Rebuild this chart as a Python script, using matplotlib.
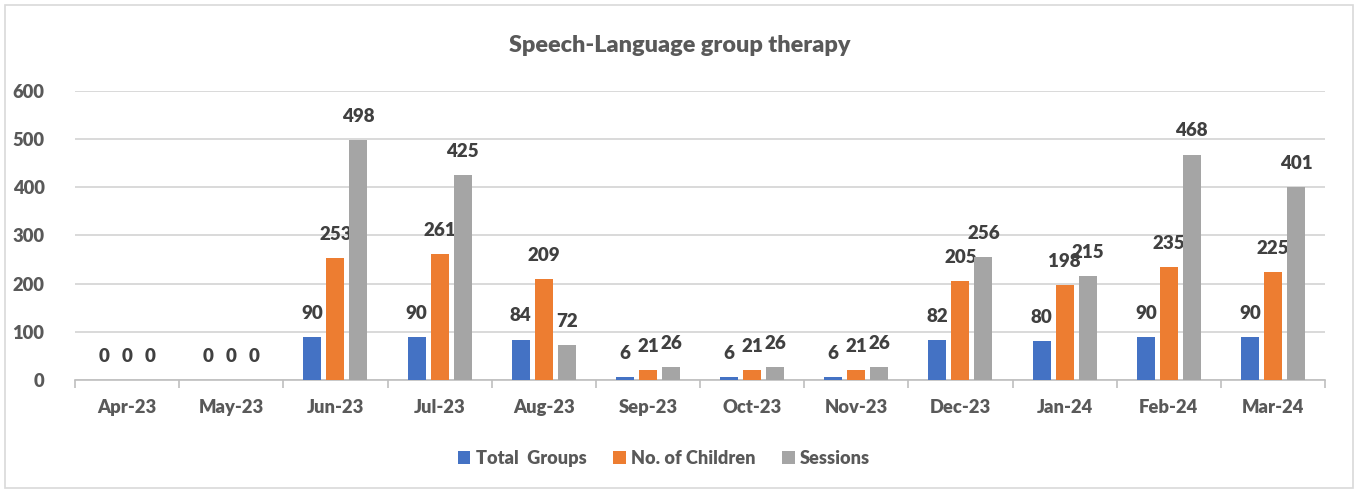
#!/usr/bin/env python3
"""Speech-Language group therapy: monthly grouped bar chart."""

import numpy as np
import matplotlib

matplotlib.use("Agg")
import matplotlib.pyplot as plt
from matplotlib.patches import Rectangle

months = ["Apr-23", "May-23", "Jun-23", "Jul-23", "Aug-23", "Sep-23",
          "Oct-23", "Nov-23", "Dec-23", "Jan-24", "Feb-24", "Mar-24"]
total_groups = [0, 0, 90, 90, 84, 6, 6, 6, 82, 80, 90, 90]
children = [0, 0, 253, 261, 209, 21, 21, 21, 205, 198, 235, 225]
sessions = [0, 0, 498, 425, 72, 26, 26, 26, 256, 215, 468, 401]

series_names = ["Total  Groups", "No. of Children", "Sessions"]
colors = ["#4472C4", "#ED7D31", "#A5A5A5"]

FONT = ["Lato", "DejaVu Sans"]
TEXT = "#595959"
LABEL = "#404040"
WEIGHT = "heavy"


def main() -> None:
    plt.rcParams["font.family"] = FONT
    fig = plt.figure(figsize=(13.59, 4.90), dpi=100)
    ax = fig.add_axes([0.0552, 0.2245, 0.9198, 0.5898])

    # light frame around the whole chart
    fig.patches.append(Rectangle((5 / 1359, 2 / 490), 1348 / 1359, 483 / 490,
                                 transform=fig.transFigure, fill=False,
                                 edgecolor="#D9D9D9", lw=1.2))

    x = np.arange(len(months))
    width = 0.173
    step = 0.221
    data = [total_groups, children, sessions]
    for i, (vals, name, col) in enumerate(zip(data, series_names, colors)):
        pos = x + (i - 1) * step
        ax.bar(pos, vals, width, color=col, label=name, zorder=3)
        for px, v in zip(pos, vals):
            ax.annotate(str(v), (px, v), xytext=(0, 17), textcoords="offset points",
                        ha="center", va="center", fontsize=13.5,
                        fontweight=WEIGHT, color=LABEL)

    ax.set_xlim(-0.5, len(months) - 0.5)
    ax.set_ylim(0, 600)
    ax.set_yticks(range(0, 601, 100))
    ax.yaxis.grid(True, color="#D9D9D9", lw=1.4, zorder=0)
    ax.set_axisbelow(True)

    ax.set_xticks(x)
    ax.set_xticklabels(months)
    ax.set_xticks(np.arange(-0.5, len(months), 1), minor=True)
    ax.tick_params(axis="x", which="major", length=0, pad=14)
    ax.tick_params(axis="x", which="minor", length=6, color="#BFBFBF", width=1.2)
    ax.tick_params(axis="y", length=0, pad=22)
    for lab in ax.get_xticklabels() + ax.get_yticklabels():
        lab.set_fontsize(13.2)
        lab.set_fontweight(WEIGHT)
        lab.set_color(TEXT)

    for side in ("top", "right", "left"):
        ax.spines[side].set_visible(False)
    ax.spines["bottom"].set_color("#BFBFBF")
    ax.spines["bottom"].set_linewidth(1.2)

    fig.text(0.5, 0.908, "Speech-Language group therapy", ha="center", va="center",
             fontsize=16.8, fontweight=WEIGHT, color=TEXT)

    leg = fig.legend(loc="center", bbox_to_anchor=(0.4886, 0.065), ncol=3,
                     frameon=False, handlelength=0.7, handleheight=0.7,
                     handletextpad=0.3, columnspacing=1.45,
                     prop={"size": 13.1, "weight": WEIGHT})
    for t in leg.get_texts():
        t.set_color(TEXT)

    fig.savefig("out.png", dpi=100)
    plt.close(fig)


if __name__ == "__main__":
    main()
